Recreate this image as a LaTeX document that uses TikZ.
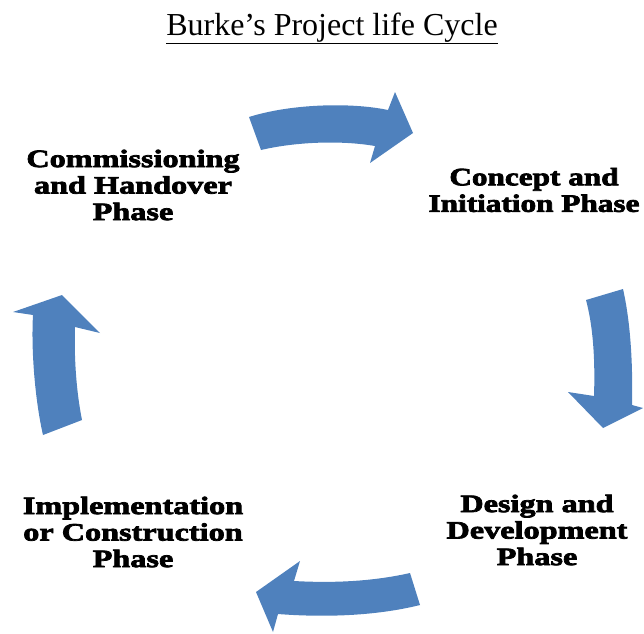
\documentclass[tikz,border=0pt]{standalone}
\usepackage{fontspec}
\setmainfont{Liberation Serif}
\newfontfamily\lblfont[UprightFeatures={FakeStretch=1.29,FakeBold=3},BoldFeatures={FakeStretch=1.29,FakeBold=3}]{Liberation Serif}
\newfontfamily\lblfontnarrow[UprightFeatures={FakeStretch=1.25,FakeBold=3},BoldFeatures={FakeStretch=1.25,FakeBold=3}]{Liberation Serif}
\definecolor{arrowblue}{HTML}{4F81BD}
\begin{document}
\begin{tikzpicture}[x=1pt,y=-1pt,
  phase/.style={align=center,font=\lblfont\bfseries\fontsize{25}{26.5}\selectfont,inner sep=0pt},
  cyclearrow/.style={fill=arrowblue}]
\useasboundingbox (0,0) rectangle (644,633);
\node[font=\fontsize{32}{36}\selectfont,anchor=base,inner sep=0pt] (title) at (332,35) {\underline{Burke’s Project life Cycle}};
\node[phase] (commission) at (133,185) {Commissioning\\and Handover\\Phase};
\node[phase,font=\lblfontnarrow\bfseries\fontsize{25}{26.5}\selectfont] (concept) at (534,190) {Concept and\\Initiation Phase};
\node[phase] (design) at (537,530) {Design and\\Development\\Phase};
\node[phase] (implement) at (133,532) {Implementation\\or Construction\\Phase};
% top arrow
\fill[cyclearrow] (249,117) .. controls (290,104) and (350,102) .. (388,110) -- (395,92) -- (413,133) -- (370,163) -- (375,146) .. controls (340,140) and (295,142) .. (261,150) -- cycle;
% right arrow
\fill[cyclearrow] (586,300) .. controls (594,330) and (595,365) .. (594,396) -- (568,392) -- (603,428) -- (643,408) -- (632,405) .. controls (633,360) and (630,320) .. (623,289) -- cycle;
% bottom arrow
\fill[cyclearrow] (410,573) .. controls (370,582) and (330,583) .. (294,581) -- (300,561) -- (256,592) -- (273,632) -- (278,614) .. controls (330,618) and (380,615) .. (420,605) -- cycle;
% left arrow
\fill[cyclearrow] (82,420) .. controls (76,390) and (74,355) .. (75,327) -- (100,333) -- (62,295) -- (13,312) -- (33,315) .. controls (31,350) and (35,400) .. (43,435) -- cycle;
\end{tikzpicture}
\end{document}
